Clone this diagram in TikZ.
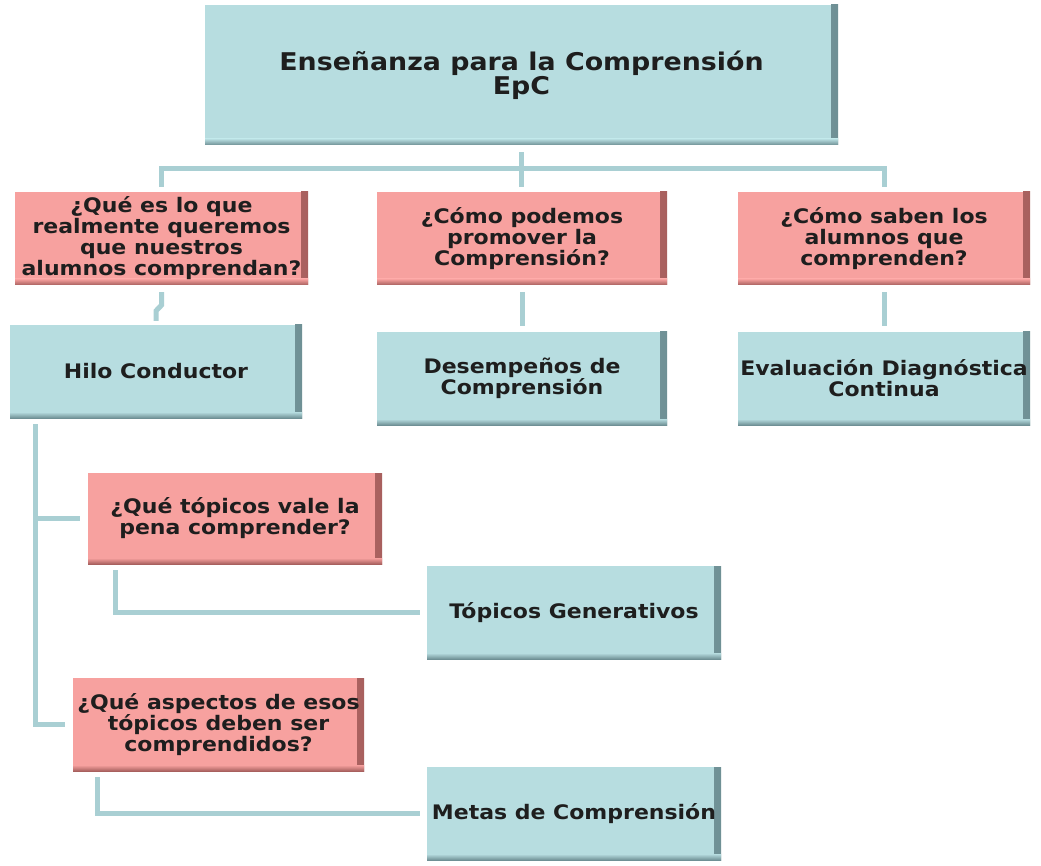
\documentclass[tikz,border=0pt]{standalone}
\usepackage{fontspec}
\setmainfont{DejaVu Sans}[FakeStretch=1.1]
\usetikzlibrary{calc}
\definecolor{bluefill}{HTML}{B7DDE0}
\definecolor{bluedark}{HTML}{6F9095}
\definecolor{pinkfill}{HTML}{F7A19F}
\definecolor{pinkdark}{HTML}{A8605E}
\definecolor{conncol}{HTML}{A9CFD3}
\definecolor{txt}{HTML}{1E1E1E}
\tikzset{
  boxbase/.style={rectangle, inner sep=0pt, align=center, text=txt,
    font=\bfseries\fontsize{20}{21}\selectfont,
    path picture={
      \shade[left color=#1fill, right color=#1dark]
        ([xshift=-7pt]path picture bounding box.north east) rectangle (path picture bounding box.south east);
      \shade[top color=#1fill, bottom color=#1dark]
        ([yshift=6pt]path picture bounding box.south west) rectangle (path picture bounding box.south east);
    }},
  bluebox/.style={boxbase=blue, fill=bluefill, minimum width=292pt, minimum height=93pt},
  pinkbox/.style={boxbase=pink, fill=pinkfill, minimum width=292pt, minimum height=93pt},
  conn/.style={draw=conncol, line width=5pt},
}
\begin{document}
\begin{tikzpicture}[x=1pt,y=-1pt]
\useasboundingbox[fill=white] (0,0) rectangle (1041,866);

\node[bluebox, minimum width=633pt, minimum height=140pt,
      font=\bfseries\fontsize{24.4}{24}\selectfont] (top) at (521.5,75)
  {Enseñanza para la Comprensión\\EpC};

\node[pinkbox, minimum width=293pt] (q1) at (161.5,238.5)
  {¿Qué es lo que\\realmente queremos\\que nuestros\\alumnos comprendan?};
\node[pinkbox, minimum width=290pt] (q2) at (522,238.5)
  {¿Cómo podemos\\promover la\\Comprensión?};
\node[pinkbox] (q3) at (884,238.5)
  {¿Cómo saben los\\alumnos que\\comprenden?};

\node[bluebox] (a1) at (156,371.5) {Hilo Conductor};
\node[bluebox, minimum width=290pt] (a2) at (522,378.5) {Desempeños de\\Comprensión};
\node[bluebox] (a3) at (884,378.5) {Evaluación Diagnóstica\\Continua};

\node[pinkbox, minimum width=294pt, minimum height=91pt] (q4) at (235,518.5)
  {¿Qué tópicos vale la\\pena comprender?};
\node[pinkbox, minimum width=291pt] (q5) at (218.5,724.5)
  {¿Qué aspectos de esos\\tópicos deben ser\\comprendidos?};

\node[bluebox, minimum width=294pt] (tg) at (574,612.5) {Tópicos Generativos};
\node[bluebox, minimum width=294pt] (mc) at (574,813.5) {Metas de Comprensión};

% connectors
\draw[conn] ($(top.south)+(0,7)$) -- ($(top.south)+(0,42)$);
\draw[conn] ($(q1.north)+(0,-5)$) |- ($(q3.north)+(0,-23)$) -- ($(q3.north)+(0,-5)$);
\draw[conn] ($(q1.south)+(0,7)$) -- ++(0,13) -- ($(a1.north)+(0,-14)$) -- ($(a1.north)+(0,-4)$);
\draw[conn] ($(q2.south)+(0,7)$) -- ($(a2.north)+(0,-6)$);
\draw[conn] ($(q3.south)+(0,7)$) -- ($(a3.north)+(0,-6)$);

\draw[conn] ($(a1.south)+(-121,6)$) coordinate (spine) |- ($(q5.west)+(-8,0)$);
\draw[conn] (spine |- q4.west) -- ($(q4.west)+(-8,0)$);
\draw[conn] ($(q4.south west)+(28,6)$) |- ($(tg.west)+(-7,0)$);
\draw[conn] ($(q5.south west)+(25,6)$) |- ($(mc.west)+(-7,0)$);
\end{tikzpicture}
\end{document}
